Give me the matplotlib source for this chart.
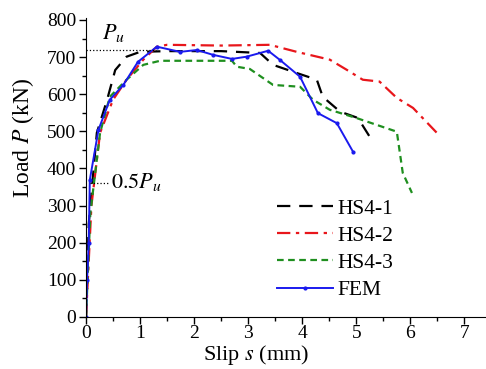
import numpy as np
import matplotlib.pyplot as plt

plt.rcParams['font.family'] = ['Liberation Serif', 'DejaVu Serif']
plt.rcParams['mathtext.fontset'] = 'stix'

# Versuchskurven (Schlupf in mm, Last in kN)
hs41_s = [0, 0.05, 0.2, 0.39, 0.54, 0.75, 1.0, 1.5, 2.5, 2.79, 3.22, 3.46, 3.9, 4.27, 4.38, 4.7, 5.03, 5.25]
hs41_p = [0, 250, 496, 585, 665, 701, 714, 716, 716, 714, 711, 679, 657, 639, 593, 553, 536, 485]

hs42_s = [0, 0.1, 0.26, 0.5, 0.75, 1.06, 1.31, 1.5, 2.5, 3.4, 3.9, 4.51, 4.82, 5.12, 5.43, 5.75, 6.05, 6.49]
hs42_p = [0, 300, 496, 585, 639, 693, 728, 733, 731, 733, 714, 693, 666, 639, 634, 590, 563, 496]

hs43_s = [0, 0.08, 0.26, 0.44, 0.75, 1.06, 1.37, 2.0, 2.7, 2.79, 3.03, 3.46, 3.96, 4.2, 4.51, 5.0, 5.75, 5.86, 6.03]
hs43_p = [0, 280, 496, 593, 639, 679, 690, 690, 690, 674, 668, 625, 620, 585, 558, 536, 499, 388, 334]

fem_s = [0, 0.02, 0.05, 0.07, 0.23, 0.44, 0.69, 0.96, 1.31, 1.74, 2.05, 2.35, 2.7, 2.97, 3.37, 3.59, 3.96, 4.29, 4.64, 4.94]
fem_p = [0, 100, 200, 369, 504, 585, 625, 687, 728, 714, 719, 706, 695, 701, 717, 692, 647, 549, 522, 445]

P_U = 720

fig = plt.figure(figsize=(4.86, 3.69), dpi=100)
ax = fig.add_axes([0.177, 0.141, 0.823, 0.81])

ax.plot(hs41_s, hs41_p, color='black', lw=1.6, dashes=(6, 4), label='HS4-1')
ax.plot(hs42_s, hs42_p, color='#e8161b', lw=1.6, dashes=(6, 2.5, 1.5, 2.5), label='HS4-2')
ax.plot(hs43_s, hs43_p, color='#1f8f1f', lw=1.6, dashes=(3, 2), label='HS4-3')
ax.plot(fem_s, fem_p, color='#1a1aee', lw=1.4, marker='o', ms=2, label='FEM')

# Pu und 0.5Pu Hilfslinien
ax.plot([0, 1.3], [P_U, P_U], color='black', lw=0.9, ls=':')
ax.plot([0.08, 0.42], [P_U / 2, P_U / 2], color='black', lw=0.9, ls=':')
ax.text(0.3, 735, r'$P_u$', fontsize=16, ha='left', va='bottom')
ax.text(0.46, P_U / 2 + 3, r'$0.5P_u$', fontsize=16, ha='left', va='center')

ax.set_xlim(0, 7.4)
ax.set_ylim(0, 805)
ax.set_xticks(np.arange(0, 8, 1))
ax.set_xticks(np.arange(0, 7.5, 0.5), minor=True)
ax.set_yticks(np.arange(0, 900, 100))
ax.set_yticks(np.arange(0, 850, 50), minor=True)
ax.tick_params(labelsize=14, direction='out', length=5, width=1, pad=2)
ax.tick_params(axis='x', pad=1)
ax.tick_params(which='minor', direction='out', length=3, width=1)
ax.spines['top'].set_visible(False)
ax.spines['right'].set_visible(False)

ax.set_xlabel(r'Slip $s$ (mm)', fontsize=16)
ax.set_ylabel(r'Load $P$ (kN)', fontsize=17)
ax.xaxis.set_label_coords(0.425, -0.088)
ax.yaxis.set_label_coords(-0.125, 0.6)

ax.legend(loc='upper left', bbox_to_anchor=(0.45, 0.432), frameon=False, borderpad=0,
          fontsize=15.5, handlelength=2.6, labelspacing=0.33, handletextpad=0.2)

plt.savefig('out.png', dpi=100)
